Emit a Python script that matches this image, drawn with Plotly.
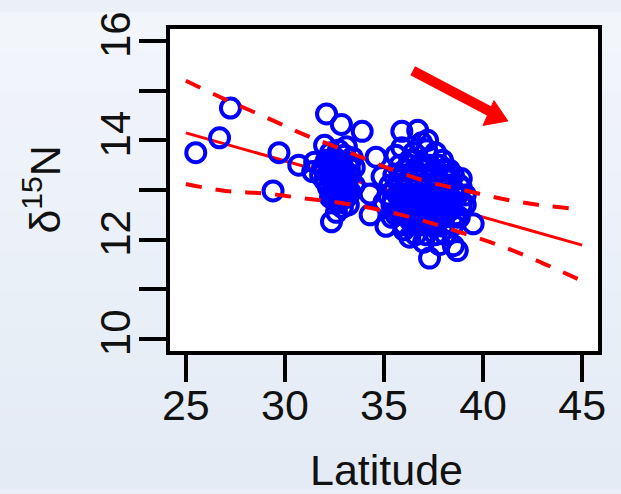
import plotly.graph_objects as go

# ---- data ----
lat = [25.5, 26.7, 27.25, 29.4, 29.7, 30.7, 31.4, 31.5,
       32.1, 32.85, 33.9, 33.1, 32.35, 34.3, 34.6, 34.3, 35.1, 35.9, 36.7, 35.9,
       37.15, 37.95, 38.9, 39.5, 37.3, 38.5, 38.7, 36.3, 34.9,
       # cluster ~32-33.5
       31.9, 32.0, 32.1, 32.2, 32.2, 32.3, 32.4, 32.4, 32.5, 32.5, 32.6, 32.6, 32.7, 32.7,
       32.8, 32.8, 32.9, 32.9, 33.0, 33.0, 33.1, 33.1, 33.2, 33.3, 33.3, 33.4, 33.5, 32.3,
       32.6, 33.2, 31.8, 33.5, 32.0,
       32.25, 32.45, 32.65, 32.85, 33.05, 33.25, 32.35, 32.55, 32.75, 32.95, 33.15, 32.5, 32.9,
       # cluster ~35-39
       35.8, 36.3, 36.8, 37.3, 37.8,
       35.5, 36.0, 36.5, 37.0, 37.5, 38.0, 38.5,
       35.3, 35.8, 36.3, 36.8, 37.3, 37.8, 38.3, 38.8,
       35.2, 35.7, 36.2, 36.7, 37.2, 37.7, 38.2, 38.7, 39.1,
       35.4, 35.9, 36.4, 36.9, 37.4, 37.9, 38.4, 38.9,
       35.6, 36.1, 36.6, 37.1, 37.6, 38.1, 38.6,
       36.0, 36.5, 37.0, 37.5, 38.0, 38.5,
       36.6, 37.1, 37.6, 38.1,
       36.05, 36.55, 37.05, 37.55, 38.05,
       35.75, 36.25, 36.75, 37.25, 37.75, 38.25,
       35.5, 36.0, 36.5, 37.0, 37.5, 38.0, 38.5,
       35.45, 35.95, 36.45, 36.95, 37.45, 37.95, 38.45,
       35.85, 36.35, 36.85, 37.35, 37.85, 38.35,
       36.3, 36.8, 37.3, 37.8,
       36.5, 36.9, 36.3, 37.6, 38.3, 35.0, 35.4, 36.0, 37.0, 37.8, 38.8, 39.1, 38.9, 35.6, 37.2]
d15n = [13.75, 14.05, 14.65, 12.98, 13.75, 13.5, 13.37, 13.56,
        14.53, 14.32, 14.18, 13.87, 12.36, 12.92, 13.66, 12.5, 12.27, 14.18, 14.2, 13.85,
        13.81, 13.6, 13.23, 12.32, 11.63, 11.88, 11.78, 12.05, 13.27,
        13.45, 13.2, 13.6, 13.35, 13.05, 13.75, 13.5, 13.2, 12.9, 13.65, 13.4, 13.1, 13.8, 12.75,
        13.55, 13.25, 13.0, 12.65, 13.7, 13.4, 13.15, 12.85, 13.55, 13.3, 12.95, 13.65, 13.1, 12.85,
        12.55, 12.7, 13.3, 13.45, 13.9,
        13.6, 13.3, 13.55, 13.35, 13.25, 13.45, 12.95, 13.0, 13.05, 13.15, 13.0, 12.8, 12.85,
        13.5, 13.5, 13.5, 13.5, 13.5,
        13.3, 13.3, 13.3, 13.3, 13.3, 13.3, 13.3,
        13.1, 13.1, 13.1, 13.1, 13.1, 13.1, 13.1, 13.1,
        12.9, 12.9, 12.9, 12.9, 12.9, 12.9, 12.9, 12.9, 12.9,
        12.7, 12.7, 12.7, 12.7, 12.7, 12.7, 12.7, 12.7,
        12.5, 12.5, 12.5, 12.5, 12.5, 12.5, 12.5,
        12.3, 12.3, 12.3, 12.3, 12.3, 12.3,
        12.1, 12.1, 12.1, 12.1,
        13.4, 13.4, 13.4, 13.4, 13.4,
        13.2, 13.2, 13.2, 13.2, 13.2, 13.2,
        13.0, 13.0, 13.0, 13.0, 13.0, 13.0, 13.0,
        12.8, 12.8, 12.8, 12.8, 12.8, 12.8, 12.8,
        12.6, 12.6, 12.6, 12.6, 12.6, 12.6,
        12.4, 12.4, 12.4, 12.4,
        13.75, 13.95, 13.6, 13.75, 13.4, 12.75, 12.45, 12.2, 11.95, 11.9, 12.45, 12.7, 13.05, 13.7, 14.0]

fit_x = [25, 45]
fit_y = [14.15, 11.89]

band_x = [25, 27, 29, 31, 33, 35, 37, 39, 41, 43, 45]
band_upper = [15.20, 14.82, 14.47, 14.11, 13.80, 13.47, 13.19, 13.00, 12.82, 12.69, 12.61]
band_lower = [13.12, 12.98, 12.93, 12.83, 12.73, 12.58, 12.38, 12.13, 11.86, 11.53, 11.17]

x_ticks = [25, 30, 35, 40, 45]
y_ticks = [10, 12, 14, 16]
y_minor_ticks = [11, 13, 15]

FONT = "Liberation Sans, Arial, sans-serif"

fig = go.Figure()

fig.add_trace(go.Scatter(x=fit_x, y=fit_y, mode="lines",
                         line=dict(color="#ff0000", width=3), hoverinfo="skip"))
fig.add_trace(go.Scatter(x=lat, y=d15n, mode="markers",
                         marker=dict(symbol="circle-open", size=19, color="#0000ff",
                                     line=dict(width=4, color="#0000ff")),
                         hoverinfo="skip"))
fig.add_trace(go.Scatter(x=band_x, y=band_upper, mode="lines", line_shape="spline",
                         line=dict(color="#ff0000", width=4, dash="16px,14px"), hoverinfo="skip"))
fig.add_trace(go.Scatter(x=band_x, y=band_lower, mode="lines", line_shape="spline",
                         line=dict(color="#ff0000", width=4, dash="16px,14px"), hoverinfo="skip"))

# background gradient bands (paper)
shapes = []
nb = 12
top_c = (242, 245, 250)
bot_c = (228, 235, 245)
y_top = 1 + 17 / 334
y_bot = -143 / 334
for i in range(nb):
    t = i / (nb - 1)
    c = tuple(round(top_c[k] + (bot_c[k] - top_c[k]) * t) for k in range(3))
    y1 = y_top - (y_top - y_bot) * i / nb
    y0 = y_top - (y_top - y_bot) * (i + 1) / nb
    shapes.append(dict(type="rect", xref="paper", yref="paper", x0=-0.5, x1=1.5,
                       y0=y0 - 0.002, y1=y1 + 0.002, line=dict(width=0),
                       fillcolor="rgb(%d,%d,%d)" % c, layer="below"))
shapes.append(dict(type="rect", xref="paper", yref="paper", x0=0, x1=1, y0=0, y1=1,
                   line=dict(width=0), fillcolor="white", layer="below"))
# direction arrow (shaft + head drawn as shapes in data coords)
shapes.append(dict(type="line", xref="x", yref="y", x0=36.45, y0=15.4, x1=40.55, y1=14.54,
                   line=dict(color="#ff0000", width=10)))
shapes.append(dict(type="path", xref="x", yref="y",
                   path="M 41.25,14.39 L 40.0,14.30 L 40.55,14.80 Z",
                   fillcolor="#ff0000", line=dict(color="#ff0000", width=1)))

fig.update_layout(
    width=621, height=494,
    margin=dict(l=170, r=23, t=17, b=143),
    paper_bgcolor="#ebf0f7", plot_bgcolor="white",
    showlegend=False,
    shapes=shapes,
    font=dict(family=FONT, color="black"),
    xaxis=dict(range=[24.2, 45.8], tickvals=x_ticks, ticks="outside", ticklen=27,
               tickwidth=4, tickcolor="black", showline=True, linewidth=4,
               linecolor="black", mirror=True, showgrid=False, zeroline=False,
               ticklabelstandoff=-14, ticklabeloverflow="allow",
               tickfont=dict(size=43, family=FONT, color="#111")),
    yaxis=dict(range=[9.76, 16.24], tickvals=y_ticks,
               ticks="outside", ticklen=27, tickwidth=4, tickcolor="black",
               minor=dict(tickvals=y_minor_ticks, ticks="outside", ticklen=27,
                          tickwidth=4, tickcolor="black", showgrid=False),
               showline=True, linewidth=4, linecolor="black", mirror=True,
               showgrid=False, zeroline=False, tickangle=-90,
               ticklabelstandoff=-8, ticklabeloverflow="allow",
               tickfont=dict(size=42, family=FONT, color="#111")),
    annotations=[
        dict(text="Latitude", xref="paper", yref="paper", x=0.505, y=-0.37,
             xanchor="center", yanchor="middle", showarrow=False,
             font=dict(size=43, family=FONT, color="#111")),
        dict(text="δ<sup>15</sup>N", xref="paper", yref="paper", x=-0.30, y=0.5,
             xanchor="center", yanchor="middle", showarrow=False, textangle=-90,
             font=dict(size=43, family=FONT, color="#111")),
    ],
)

fig.write_html("out.html", config={"displayModeBar": False},
               post_script="document.body.style.margin='0';document.body.style.background='#ebf0f7';")
